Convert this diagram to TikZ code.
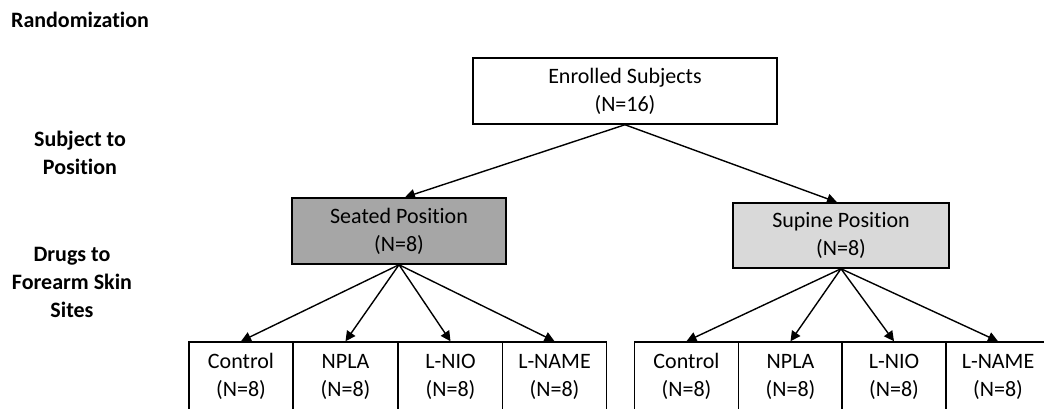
\documentclass[tikz,border=0pt]{standalone}
\usepackage{fontspec}
\setmainfont{Carlito}[Ligatures=CommonOff]
\usetikzlibrary{arrows.meta}
\definecolor{seatfill}{HTML}{A6A6A6}
\definecolor{supfill}{HTML}{D9D9D9}
\newcommand{\tworows}[2]{\raisebox{3pt}{\begin{tabular}{@{}c@{}}#1\\#2\end{tabular}}}
\tikzset{
  box/.style={draw=black, line width=1.5pt, inner sep=0pt, align=center,
    font=\fontsize{22}{28}\selectfont},
  drugbox/.style={box, minimum width=104pt, minimum height=70pt},
  lvl/.style={align=center, font=\fontsize{22}{28}\selectfont\bfseries},
  conn/.style={line width=1.4pt, -{Triangle[length=10pt,width=10pt]}}
}
\begin{document}
\begin{tikzpicture}[x=1pt,y=-1pt]
\useasboundingbox (0,0) rectangle (1044,408);
\clip (0,0) rectangle (1044,408);

% row labels
\node[lvl] (lrand) at (80,20) {Randomization};
\node[lvl] (lpos) at (80,153) {Subject to\\Position};
\node[lvl] (ldrug) at (72,282) {Drugs to\\Forearm Skin\\Sites};

% top level
\node[box, minimum width=304pt, minimum height=66pt] (enr) at (625,91)
  {Enrolled Subjects\\(N=16)};

% positions
\node[box, fill=seatfill, minimum width=214pt, minimum height=66pt] (seat) at (399,231)
  {Seated Position\\(N=8)};
\node[box, fill=supfill, minimum width=216pt, minimum height=65pt] (sup) at (841,235.5)
  {Supine Position\\(N=8)};

% drug sites, seated group
\node[drugbox] (s1) at (241,377) {\tworows{Control}{(N=8)}};
\node[drugbox] (s2) at (345.5,377) {\tworows{NPLA}{(N=8)}};
\node[drugbox] (s3) at (450.5,377) {\tworows{L-NIO}{(N=8)}};
\node[drugbox] (s4) at (554.5,377) {\tworows{L-NAME}{(N=8)}};

% drug sites, supine group
\node[drugbox] (p1) at (686.5,377) {\tworows{Control}{(N=8)}};
\node[drugbox] (p2) at (790.5,377) {\tworows{NPLA}{(N=8)}};
\node[drugbox] (p3) at (894,377) {\tworows{L-NIO}{(N=8)}};
\node[drugbox] (p4) at (998,377) {\tworows{L-NAME}{(N=8)}};

% connectors
\draw[conn] (enr.south) -- ([xshift=6pt]seat.north);
\draw[conn] (enr.south) -- ([xshift=-4pt]sup.north);
\foreach \c in {s1,s2,s3,s4} \draw[conn] (seat.south) -- (\c.north);
\foreach \c in {p1,p2,p3,p4} \draw[conn] (sup.south) -- (\c.north);
\end{tikzpicture}
\end{document}
